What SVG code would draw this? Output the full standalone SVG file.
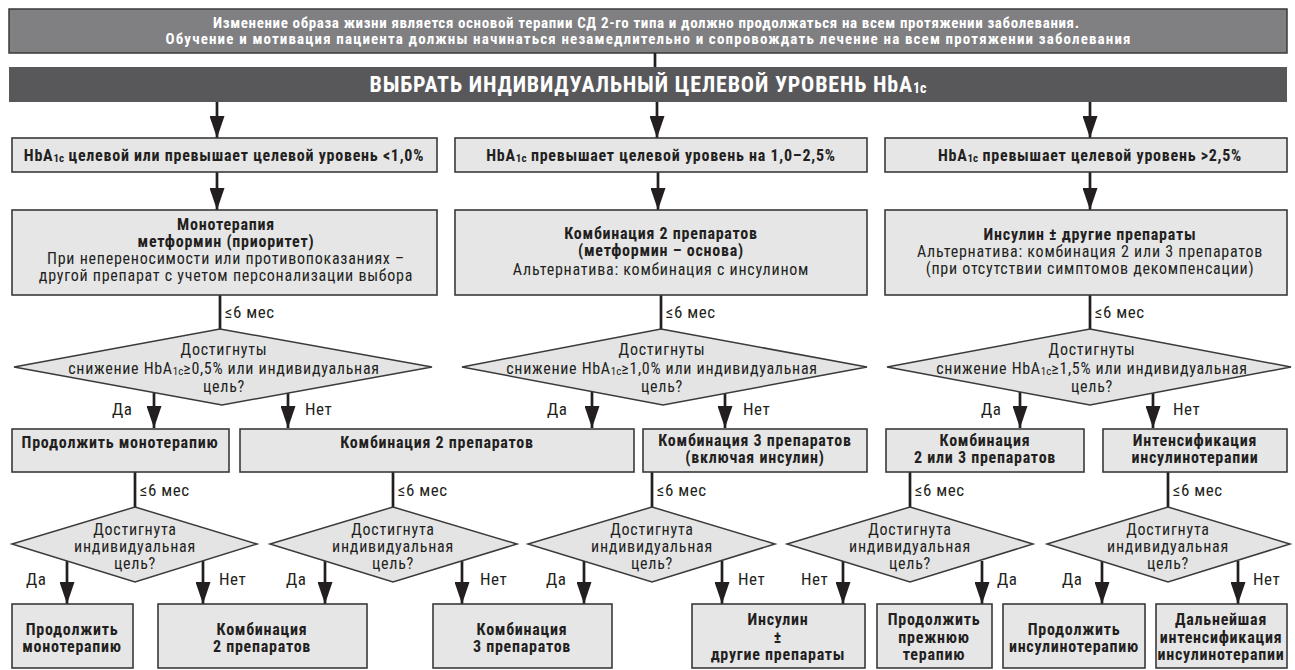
<svg xmlns="http://www.w3.org/2000/svg" width="1295" height="670" viewBox="0 0 1295 670">
<defs>
<style>
text{font-family:"Roboto Condensed","Liberation Sans Narrow","Arial Narrow","DejaVu Sans Condensed",Roboto,sans-serif;font-stretch:condensed;fill:#231f20;text-anchor:middle;font-size:16px;letter-spacing:0.75px}
.b{font-weight:bold}
.w{fill:#ffffff}
.bn{font-size:15px;letter-spacing:0}
.lab{text-anchor:start;font-size:17px;letter-spacing:0.5px}
.sub{font-size:11px;letter-spacing:0}
.box{fill:#e6e6e7;stroke:#3a3a3a;stroke-width:1.6}
.dia{fill:#e4e4e5;stroke:#3a3a3a;stroke-width:1.5}
.ln{stroke:#231f20;stroke-width:2.7;fill:none}
.arr{marker-end:url(#ah)}
</style>
<marker id="ah" markerUnits="userSpaceOnUse" markerWidth="22" markerHeight="15" refX="22" refY="7.5" orient="auto" viewBox="0 0 22 15">
<path d="M0,0 L22,7.5 L0,15 z" fill="#231f20"/>
</marker>
</defs>
<rect width="1295" height="670" fill="#ffffff"/>

<g id="banner">
<rect x="9" y="9" width="1278" height="44" fill="#808083" stroke="#3a3a3a" stroke-width="1.5"/>
<text class="b w bn" x="646" y="28" textLength="866" lengthAdjust="spacing">Изменение образа жизни является основой терапии СД 2-го типа и должно продолжаться на всем протяжении заболевания.</text>
<text class="b w bn" x="648" y="44" textLength="965" lengthAdjust="spacing">Обучение и мотивация пациента должны начинаться незамедлительно и сопровождать лечение на всем протяжении заболевания</text>
</g>

<g id="header">
<rect x="9" y="67" width="1278" height="35" fill="#58585b"/>
<text class="b w" x="648" y="92" style="font-size:22px;letter-spacing:0.8px">ВЫБРАТЬ ИНДИВИДУАЛЬНЫЙ ЦЕЛЕВОЙ УРОВЕНЬ HbA<tspan style="font-size:14px;letter-spacing:0" dy="1">1c</tspan></text>
</g>

<g id="connectors">
<line class="ln" x1="655" y1="53" x2="655" y2="67"/>
<line class="ln arr" x1="217" y1="102" x2="217" y2="138"/>
<line class="ln arr" x1="657" y1="102" x2="657" y2="138"/>
<line class="ln arr" x1="1090" y1="102" x2="1090" y2="138"/>
<line class="ln arr" x1="217" y1="172" x2="217" y2="210"/>
<line class="ln arr" x1="658" y1="172" x2="658" y2="210"/>
<line class="ln arr" x1="1090" y1="172" x2="1090" y2="210"/>
<line class="ln" x1="220" y1="295" x2="220" y2="329"/>
<line class="ln" x1="661" y1="295" x2="661" y2="329"/>
<line class="ln" x1="1090" y1="295" x2="1090" y2="329"/>
<line class="ln arr" x1="154" y1="392" x2="154" y2="428"/>
<line class="ln arr" x1="288" y1="393" x2="288" y2="428"/>
<line class="ln arr" x1="592" y1="392" x2="592" y2="428"/>
<line class="ln arr" x1="725" y1="393" x2="725" y2="428"/>
<line class="ln arr" x1="1020" y1="392" x2="1020" y2="428"/>
<line class="ln arr" x1="1153" y1="393" x2="1153" y2="428"/>
<line class="ln" x1="135" y1="472" x2="135" y2="507"/>
<line class="ln" x1="393" y1="472" x2="393" y2="507"/>
<line class="ln" x1="652" y1="472" x2="652" y2="507"/>
<line class="ln" x1="910" y1="472" x2="910" y2="507"/>
<line class="ln" x1="1168" y1="472" x2="1168" y2="507"/>
<line class="ln arr" x1="67" y1="561" x2="67" y2="604"/>
<line class="ln arr" x1="203" y1="561" x2="203" y2="604"/>
<line class="ln arr" x1="325" y1="561" x2="325" y2="604"/>
<line class="ln arr" x1="462" y1="561" x2="462" y2="604"/>
<line class="ln arr" x1="584" y1="561" x2="584" y2="604"/>
<line class="ln arr" x1="722" y1="561" x2="722" y2="604"/>
<line class="ln arr" x1="843" y1="561" x2="843" y2="604"/>
<line class="ln arr" x1="982" y1="561" x2="982" y2="604"/>
<line class="ln arr" x1="1102" y1="561" x2="1102" y2="604"/>
<line class="ln arr" x1="1238" y1="561" x2="1238" y2="604"/>
<text class="lab" x="225" y="318">≤6 мес</text>
<text class="lab" x="666" y="318">≤6 мес</text>
<text class="lab" x="1095" y="318">≤6 мес</text>
<text class="lab" x="140" y="496">≤6 мес</text>
<text class="lab" x="398" y="496">≤6 мес</text>
<text class="lab" x="657" y="496">≤6 мес</text>
<text class="lab" x="915" y="496">≤6 мес</text>
<text class="lab" x="1173" y="496">≤6 мес</text>
<text class="lab" x="112" y="415">Да</text>
<text class="lab" x="305" y="415">Нет</text>
<text class="lab" x="547" y="415">Да</text>
<text class="lab" x="743" y="415">Нет</text>
<text class="lab" x="981" y="415">Да</text>
<text class="lab" x="1173" y="415">Нет</text>
<text class="lab" x="26" y="585">Да</text>
<text class="lab" x="219" y="585">Нет</text>
<text class="lab" x="286" y="585">Да</text>
<text class="lab" x="480" y="585">Нет</text>
<text class="lab" x="546" y="585">Да</text>
<text class="lab" x="738" y="585">Нет</text>
<text class="lab" x="801" y="585">Нет</text>
<text class="lab" x="997" y="585">Да</text>
<text class="lab" x="1062" y="585">Да</text>
<text class="lab" x="1253" y="585">Нет</text>
</g>

<g id="target-low">
<rect class="box" x="12" y="138" width="425" height="34"/>
<text class="b" x="224" y="161">HbA<tspan class="sub" dy="1">1c</tspan><tspan dy="-1"> целевой или превышает целевой уровень &lt;1,0%</tspan></text>
</g>
<g id="target-mid">
<rect class="box" x="455" y="138" width="412" height="34"/>
<text class="b" x="661" y="161">HbA<tspan class="sub" dy="1">1c</tspan><tspan dy="-1"> превышает целевой уровень на 1,0–2,5%</tspan></text>
</g>
<g id="target-high">
<rect class="box" x="885" y="138" width="402" height="34"/>
<text class="b" x="1090" y="161">HbA<tspan class="sub" dy="1">1c</tspan><tspan dy="-1"> превышает целевой уровень &gt;2,5%</tspan></text>
</g>

<g id="mono">
<rect class="box" x="12" y="210" width="425" height="85"/>
<text class="b" x="226" y="230">Монотерапия</text>
<text class="b" x="226" y="247">метформин (приоритет)</text>
<text x="226" y="264">При непереносимости или противопоказаниях –</text>
<text x="226" y="281">другой препарат с учетом персонализации выбора</text>
</g>
<g id="combo2">
<rect class="box" x="455" y="210" width="412" height="85"/>
<text class="b" x="661" y="239">Комбинация 2 препаратов</text>
<text class="b" x="661" y="256">(метформин – основа)</text>
<text x="661" y="275">Альтернатива: комбинация с инсулином</text>
</g>
<g id="insulin">
<rect class="box" x="885" y="210" width="402" height="85"/>
<text class="b" x="1090" y="240">Инсулин ± другие препараты</text>
<text x="1090" y="257">Альтернатива: комбинация 2 или 3 препаратов</text>
<text x="1090" y="274">(при отсутствии симптомов декомпенсации)</text>
</g>

<g id="dec-a">
<polygon class="dia" points="220,329 432,367 222,405 14,367"/>
<text x="224" y="355">Достигнуты</text>
<text x="224" y="374" style="letter-spacing:0.7px">снижение HbA<tspan class="sub" dy="1">1c</tspan><tspan dy="-1">≥0,5% или индивидуальная</tspan></text>
<text x="224" y="392">цель?</text>
</g>
<g id="dec-b">
<polygon class="dia" points="661,329 867,367 663,405 462,367"/>
<text x="662" y="355">Достигнуты</text>
<text x="662" y="374" style="letter-spacing:0.7px">снижение HbA<tspan class="sub" dy="1">1c</tspan><tspan dy="-1">≥1,0% или индивидуальная</tspan></text>
<text x="662" y="392">цель?</text>
</g>
<g id="dec-c">
<polygon class="dia" points="1090,329 1291,367 1090,405 887,367"/>
<text x="1092" y="355">Достигнуты</text>
<text x="1092" y="374" style="letter-spacing:0.7px">снижение HbA<tspan class="sub" dy="1">1c</tspan><tspan dy="-1">≥1,5% или индивидуальная</tspan></text>
<text x="1092" y="392">цель?</text>
</g>

<g id="cont-mono">
<rect class="box" x="12" y="429" width="217" height="43"/>
<text class="b" x="120" y="448">Продолжить монотерапию</text>
</g>
<g id="combo2-b">
<rect class="box" x="240" y="429" width="394" height="43"/>
<text class="b" x="437" y="448">Комбинация 2 препаратов</text>
</g>
<g id="combo3-ins">
<rect class="box" x="643" y="429" width="224" height="43"/>
<text class="b" x="755" y="446">Комбинация 3 препаратов</text>
<text class="b" x="755" y="463">(включая инсулин)</text>
</g>
<g id="combo23">
<rect class="box" x="886" y="429" width="198" height="43"/>
<text class="b" x="985" y="446">Комбинация</text>
<text class="b" x="985" y="463">2 или 3 препаратов</text>
</g>
<g id="intens">
<rect class="box" x="1103" y="429" width="184" height="43"/>
<text class="b" x="1195" y="446">Интенсификация</text>
<text class="b" x="1195" y="463">инсулинотерапии</text>
</g>

<g id="dec1">
<polygon class="dia" points="135,507 257,544 135,582 12,544"/>
<text x="135" y="535">Достигнута</text>
<text x="135" y="552">индивидуальная</text>
<text x="135" y="569">цель?</text>
</g>
<g id="dec2">
<polygon class="dia" points="393,507 517,544 393,582 270,544"/>
<text x="393" y="535">Достигнута</text>
<text x="393" y="552">индивидуальная</text>
<text x="393" y="569">цель?</text>
</g>
<g id="dec3">
<polygon class="dia" points="652,507 775,544 652,582 528,544"/>
<text x="652" y="535">Достигнута</text>
<text x="652" y="552">индивидуальная</text>
<text x="652" y="569">цель?</text>
</g>
<g id="dec4">
<polygon class="dia" points="910,507 1033,544 910,582 787,544"/>
<text x="910" y="535">Достигнута</text>
<text x="910" y="552">индивидуальная</text>
<text x="910" y="569">цель?</text>
</g>
<g id="dec5">
<polygon class="dia" points="1168,507 1290,544 1168,582 1047,544"/>
<text x="1168" y="535">Достигнута</text>
<text x="1168" y="552">индивидуальная</text>
<text x="1168" y="569">цель?</text>
</g>

<g id="r-cont-mono">
<rect class="box" x="12" y="604" width="121" height="64"/>
<text class="b" x="72" y="635">Продолжить</text>
<text class="b" x="72" y="652">монотерапию</text>
</g>
<g id="r-combo2">
<rect class="box" x="158" y="604" width="209" height="64"/>
<text class="b" x="262" y="635">Комбинация</text>
<text class="b" x="262" y="652">2 препаратов</text>
</g>
<g id="r-combo3">
<rect class="box" x="433" y="604" width="179" height="64"/>
<text class="b" x="522" y="635">Комбинация</text>
<text class="b" x="522" y="652">3 препаратов</text>
</g>
<g id="r-insulin">
<rect class="box" x="692" y="604" width="173" height="64"/>
<text class="b" x="778" y="625">Инсулин</text>
<text class="b" x="778" y="643">±</text>
<text class="b" x="778" y="660">другие препараты</text>
</g>
<g id="r-cont-prev">
<rect class="box" x="877" y="604" width="115" height="64"/>
<text class="b" x="934" y="625">Продолжить</text>
<text class="b" x="934" y="643">прежнюю</text>
<text class="b" x="934" y="660">терапию</text>
</g>
<g id="r-cont-ins">
<rect class="box" x="1003" y="604" width="142" height="64"/>
<text class="b" x="1074" y="635">Продолжить</text>
<text class="b" x="1074" y="652">инсулинотерапию</text>
</g>
<g id="r-further">
<rect class="box" x="1156" y="604" width="131" height="64"/>
<text class="b" x="1221" y="625">Дальнейшая</text>
<text class="b" x="1221" y="643">интенсификация</text>
<text class="b" x="1221" y="660">инсулинотерапии</text>
</g>
</svg>
